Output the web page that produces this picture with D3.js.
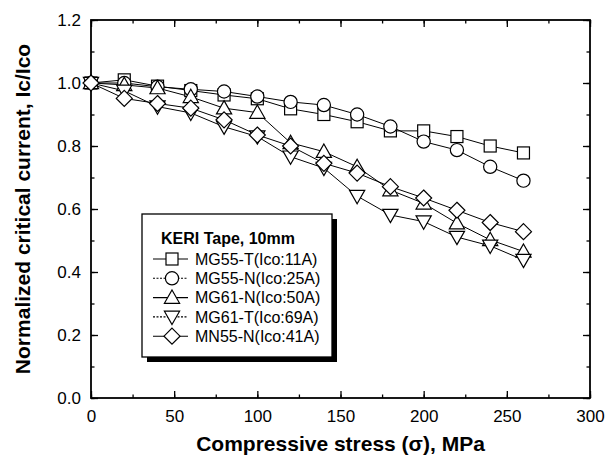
<!DOCTYPE html>
<html>
<head>
<meta charset="utf-8">
<script src="https://cdn.jsdelivr.net/npm/d3@7"></script>
<style>
html,body{margin:0;padding:0;background:#fff;}
svg{display:block;font-family:"Liberation Sans",Arial,Helvetica,sans-serif;}
</style>
</head>
<body>
<svg id="chart" width="614" height="464"></svg>
<script>
const stress = [0,20,40,60,80,100,120,140,160,180,200,220,240,260];
const seriesNames = ["MG55-T(Ico:11A)","MG55-N(Ico:25A)","MG61-N(Ico:50A)","MG61-T(Ico:69A)","MN55-N(Ico:41A)"];
const seriesSymbols = ["square","circle","triUp","triDown","diamond"];
const mg55T = [1.0,1.01,0.99,0.976,0.962,0.95,0.918,0.90,0.877,0.848,0.848,0.83,0.80,0.778];
const mg55N = [1.0,1.0,0.988,0.98,0.973,0.957,0.94,0.93,0.90,0.862,0.814,0.787,0.734,0.69];
const mg61N = [1.0,0.994,0.984,0.956,0.92,0.906,0.81,0.782,0.734,0.66,0.618,0.555,0.502,0.465];
const mg61T = [1.0,0.975,0.925,0.905,0.861,0.83,0.766,0.73,0.641,0.581,0.56,0.511,0.483,0.438];
const mn55N = [1.0,0.951,0.935,0.92,0.883,0.835,0.80,0.745,0.714,0.671,0.635,0.596,0.557,0.528];
const seriesValues = [mg55T,mg55N,mg61N,mg61T,mn55N];
const xTicks = [0,50,100,150,200,250,300];
const yTicks = [0.0,0.2,0.4,0.6,0.8,1.0,1.2];
const legendTitle = "KERI Tape, 10mm";
const xTitle = "Compressive stress (\u03c3), MPa";
const yTitle = "Normalized critical current, Ic/Ico";

const svg = d3.select("#chart");
const L = 91, R = 590, T = 20, B = 398;
const x = d3.scaleLinear().domain([0,300]).range([L,R]);
const y = d3.scaleLinear().domain([0,1.2]).range([B,T]);

const tickFont = "17px";
const xMinor = d3.range(0,301,25);
const yMinor = d3.range(0,1.21,0.1);

function styleAxis(g){ g.select(".domain").remove(); g.selectAll("line").attr("stroke","#000").attr("stroke-width",1.3); }

svg.append("g").attr("transform",`translate(0,${B})`)
  .call(d3.axisBottom(x).tickValues(xMinor).tickSize(-3.5).tickFormat(""))
  .call(styleAxis);
svg.append("g").attr("transform",`translate(0,${B})`)
  .call(d3.axisBottom(x).tickValues(xTicks).tickSize(-7).tickPadding(12).tickFormat(d3.format("d")))
  .call(styleAxis)
  .call(g=>g.selectAll("text").attr("font-size",tickFont).attr("fill","#000"));
svg.append("g").attr("transform",`translate(0,${T})`)
  .call(d3.axisTop(x).tickValues(xMinor).tickSize(-3.5).tickFormat("")).call(styleAxis);
svg.append("g").attr("transform",`translate(0,${T})`)
  .call(d3.axisTop(x).tickValues(xTicks).tickSize(-7).tickFormat("")).call(styleAxis);

svg.append("g").attr("transform",`translate(${L},0)`)
  .call(d3.axisLeft(y).tickValues(yMinor).tickSize(-3.5).tickFormat("")).call(styleAxis);
svg.append("g").attr("transform",`translate(${L},0)`)
  .call(d3.axisLeft(y).tickValues(yTicks).tickSize(-7).tickPadding(10).tickFormat(d3.format(".1f")))
  .call(styleAxis)
  .call(g=>g.selectAll("text").attr("font-size",tickFont).attr("fill","#000"));
svg.append("g").attr("transform",`translate(${R},0)`)
  .call(d3.axisRight(y).tickValues(yMinor).tickSize(-3.5).tickFormat("")).call(styleAxis);
svg.append("g").attr("transform",`translate(${R},0)`)
  .call(d3.axisRight(y).tickValues(yTicks).tickSize(-7).tickFormat("")).call(styleAxis);

svg.append("rect").attr("x",L).attr("y",T).attr("width",R-L).attr("height",B-T)
  .attr("fill","none").attr("stroke","#000").attr("stroke-width",1.8);

function drawSymbol(g, type, cx, cy){
  let el;
  if(type==="square"){
    const s = 6;
    el = g.append("rect").attr("x",cx-s).attr("y",cy-s).attr("width",2*s).attr("height",2*s);
  } else if(type==="circle"){
    el = g.append("circle").attr("cx",cx).attr("cy",cy).attr("r",6.6);
  } else if(type==="triUp"){
    const h=7.6;
    el = g.append("path").attr("d",`M${cx},${cy-h}L${cx+h},${cy+h*0.75}L${cx-h},${cy+h*0.75}Z`);
  } else if(type==="triDown"){
    const h=7.6;
    el = g.append("path").attr("d",`M${cx},${cy+h}L${cx+h},${cy-h*0.75}L${cx-h},${cy-h*0.75}Z`);
  } else {
    const h=8;
    el = g.append("path").attr("d",`M${cx},${cy-h}L${cx+h},${cy}L${cx},${cy+h}L${cx-h},${cy}Z`);
  }
  el.attr("fill","#fff").attr("stroke","#000").attr("stroke-width",1.2);
}

const line = d3.line().x((d,i)=>x(stress[i])).y(d=>y(d));
const plot = svg.append("g");
seriesValues.forEach((vals,k)=>{
  plot.append("path").datum(vals).attr("d",line)
    .attr("fill","none").attr("stroke","#000").attr("stroke-width",1);
});
seriesValues.forEach((vals,k)=>{
  const g = plot.append("g");
  vals.forEach((v,i)=>drawSymbol(g, seriesSymbols[k], x(stress[i]), y(v)));
});

// legend
const lx=142, ly=214, lw=190, lh=143;
svg.append("rect").attr("x",lx+5).attr("y",ly+5).attr("width",lw).attr("height",lh).attr("fill","#000");
svg.append("rect").attr("x",lx).attr("y",ly).attr("width",lw).attr("height",lh)
  .attr("fill","#fff").attr("stroke","#000").attr("stroke-width",1.3);
svg.append("text").attr("x",lx+19).attr("y",ly+30).attr("font-size","16px").attr("font-weight","bold")
  .text(legendTitle);
seriesNames.forEach((name,k)=>{
  const cy = ly + 45 + k*19.3;
  svg.append("line").attr("x1",lx+11).attr("x2",lx+46).attr("y1",cy).attr("y2",cy)
    .attr("stroke","#000").attr("stroke-width",1.1)
    .attr("stroke-dasharray", (k===1||k===3) ? "2,1.5" : null);
  const g = svg.append("g");
  drawSymbol(g, seriesSymbols[k], lx+30, cy);
  svg.append("text").attr("x",lx+53).attr("y",cy+5.8).attr("font-size","16px").text(name);
});

// axis titles
svg.append("text").attr("x",(L+R)/2).attr("y",451).attr("text-anchor","middle")
  .attr("font-size","21px").attr("font-weight","bold").text(xTitle);
svg.append("text").attr("transform",`translate(30,${(T+B)/2}) rotate(-90)`).attr("text-anchor","middle")
  .attr("font-size","21px").attr("font-weight","bold").text(yTitle);
</script>
</body>
</html>
